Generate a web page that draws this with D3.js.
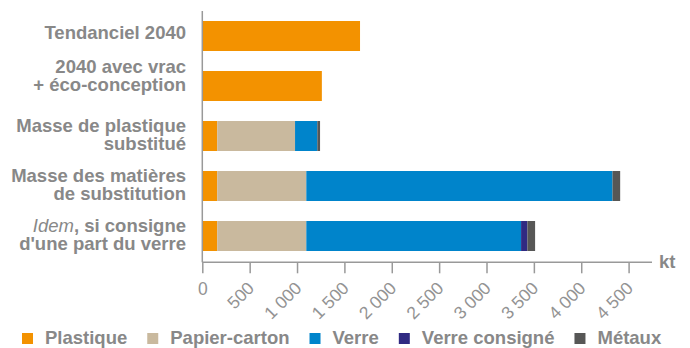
<!DOCTYPE html>
<html><head><meta charset="utf-8">
<script src="https://cdn.jsdelivr.net/npm/d3@7"></script>
<style>
body{margin:0;background:#fff;}
svg{display:block;font-family:"Liberation Sans",Arial,sans-serif;}
</style></head>
<body><svg id="c" width="690" height="348"></svg>
<script>
const categories = ["Tendanciel 2040","2040 avec vrac|+ éco-conception","Masse de plastique|substitué","Masse des matières|de substitution","Idem, si consigne|d'une part du verre"];
const seriesNames = ["Plastique","Papier-carton","Verre","Verre consigné","Métaux"];
const plastique = [1665, 1262, 158, 158, 158];
const papierCarton = [0, 0, 821, 940, 940];
const verre = [0, 0, 235, 3232, 2267];
const verreConsigne = [0, 0, 0, 0, 67];
const metaux = [0, 0, 29, 81, 81];
const tickValues = [0,500,1000,1500,2000,2500,3000,3500,4000,4500];
const tickLabels = ["0","500","1 000","1 500","2 000","2 500","3 000","3 500","4 000","4 500"];
const unitLabel = "kt";
const colors = ["#F39200","#C9B99E","#0084CB","#302A82","#575756"];

const textColor = "#888888";
const axisColor = "#999999";
const svg = d3.select("#c");

const x = d3.scaleLinear().domain([0,4500]).range([202.3,628.6]);
const y = d3.scaleBand().domain(categories).range([11,261]).paddingInner(0.4).paddingOuter(0.2);

const series = [plastique,papierCarton,verre,verreConsigne,metaux];
const rows = categories.map((c,i)=>{const o={cat:c}; seriesNames.forEach((s,j)=>o[s]=series[j][i]); return o;});
const stacked = d3.stack().keys(seriesNames)(rows);

svg.append("g").selectAll("g").data(stacked).join("g")
  .attr("fill",(d,i)=>colors[i])
  .selectAll("rect").data(d=>d).join("rect")
  .attr("x",d=>x(d[0])).attr("y",d=>y(d.data.cat))
  .attr("width",d=>Math.max(0,x(d[1])-x(d[0]))).attr("height",y.bandwidth());

// axes
const xAxis = d3.axisBottom(x).tickValues(tickValues).tickSize(11).tickFormat((d,i)=>tickLabels[i]);
const gx = svg.append("g").attr("transform","translate(0,262.3)").call(xAxis);
gx.select(".domain").remove();
gx.selectAll(".tick line").attr("stroke",axisColor).attr("stroke-width",1.5);
gx.selectAll(".tick text").attr("fill","#939393").style("font-size","17.5px")
  .each(function(d){
    const t=d3.select(this);
    if(d===0){t.attr("text-anchor","middle").attr("x",0).attr("y",33).attr("dy",0).attr("transform",null);}
    else{t.attr("text-anchor","end").attr("x",0).attr("y",0).attr("dy",0).attr("transform","translate(5,27) rotate(-45)");}
  });
svg.append("line").attr("x1",202.3).attr("x2",652).attr("y1",262.3).attr("y2",262.3).attr("stroke",axisColor).attr("stroke-width",1.5);
svg.append("line").attr("x1",202.3).attr("x2",202.3).attr("y1",11).attr("y2",262.3).attr("stroke",axisColor).attr("stroke-width",1.5);
svg.append("text").attr("x",659).attr("y",268).attr("fill",textColor).style("font-size","18.5px").style("font-weight","bold").text(unitLabel);

// category labels
const labelShift = [0,-9,0,0,0];
const lab = svg.append("g");
categories.forEach((c,i)=>{
  const lines=c.split("|");
  const cy=y(c)+y.bandwidth()/2+labelShift[i];
  const t=lab.append("text").attr("text-anchor","end").attr("fill",textColor)
    .style("font-size","18.5px").style("font-weight","bold");
  lines.forEach((ln,k)=>{
    const by = lines.length===1 ? cy+3 : cy-4.5+k*18.5;
    const ts=t.append("tspan").attr("x",186).attr("y",by);
    if(ln.startsWith("Idem")){
      ts.append("tspan").style("font-style","italic").style("font-weight","normal").text("Idem");
      ts.append("tspan").text(ln.slice(4));
    } else ts.text(ln);
  });
});

// legend
const leg = svg.append("g");
let lx=22;
seriesNames.forEach((s,i)=>{
  leg.append("rect").attr("x",lx).attr("y",333).attr("width",11).attr("height",11).attr("fill",colors[i]);
  const t=leg.append("text").attr("x",lx+23).attr("y",344).attr("fill",textColor)
    .style("font-size","18.5px").style("font-weight","bold").text(s);
  lx += 23 + t.node().getComputedTextLength() + 20;
});
</script></body></html>
